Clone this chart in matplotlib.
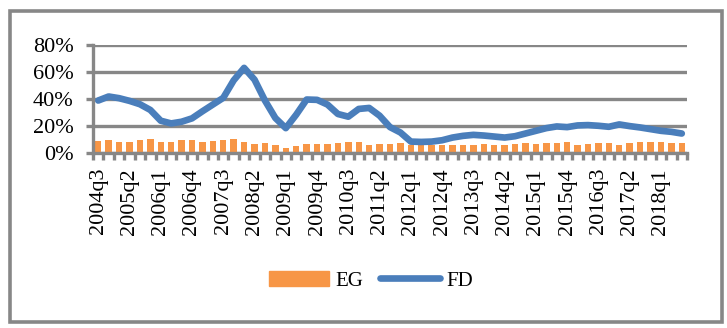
import matplotlib
matplotlib.use("Agg")
import matplotlib.pyplot as plt
from matplotlib.patches import Rectangle, Patch
from matplotlib.lines import Line2D
from matplotlib.ticker import FixedLocator, PercentFormatter
import numpy as np

# Quarters 2004q3 .. 2018q3
quarters = []
y, q = 2004, 3
for _ in range(57):
    quarters.append(f"{y}q{q}")
    q += 1
    if q == 5:
        q = 1
        y += 1

eg = [8.75, 9.5, 7.75, 8.0, 9.5, 10.25, 8.0, 8.0, 9.5, 9.5,
      8.0, 8.75, 9.5, 10.25, 8.0, 6.5, 7.25, 5.75, 3.5, 5.0,
      6.5, 6.5, 6.5, 7.25, 8.0, 8.0, 5.75, 6.5, 6.5, 7.0,
      5.5, 5.5, 5.75, 6.0, 5.5, 5.5, 5.75, 6.5, 5.75, 5.75,
      6.5, 7.0, 6.5, 7.25, 7.25, 7.75, 5.75, 6.5, 7.25, 7.25,
      5.75, 7.0, 8.0, 8.0, 8.0, 7.25, 7.25]

fd = [38.75, 41.75, 40.5, 38.5, 36.0, 31.75, 23.75, 21.75, 23.0, 25.5,
      30.75, 35.75, 40.75, 53.75, 63.0, 54.25, 38.75, 25.75, 18.25, 28.25,
      39.5, 39.25, 35.75, 28.75, 26.75, 32.5, 33.25, 27.5, 19.0, 15.0,
      8.25, 8.0, 8.25, 9.25, 11.25, 12.5, 13.25, 12.75, 12.0, 11.25,
      12.25, 14.25, 16.25, 18.25, 19.5, 19.0, 20.25, 20.5, 20.0, 19.25,
      21.0, 19.75, 18.75, 17.5, 16.25, 15.5, 14.25]

yticks = [0, 20, 40, 60, 80]

GRAY = "#878787"
ORANGE = "#F79646"
BLUE = "#4A7EBB"
FONT = "Liberation Serif"
FS = 16

W, H = 727, 328
fig = plt.figure(figsize=(W / 100, H / 100), dpi=100)
ax = fig.add_axes([93 / W, 1 - 152.7 / H, (687 - 93) / W, (152.7 - 45) / H])

x = np.arange(len(quarters))
ax.bar(x, eg, width=0.62, color=ORANGE, zorder=2)
ax.plot(x, fd, color=BLUE, lw=4.8, solid_joinstyle="round", solid_capstyle="round", zorder=3)

ax.set_xlim(-0.5, len(quarters) - 0.5)
ax.set_ylim(0, 80)

# y axis
ax.set_yticks(yticks)
ax.yaxis.set_major_formatter(PercentFormatter(decimals=0))
ax.tick_params(axis="y", length=5, width=2.4, color=GRAY, pad=9,
               labelsize=FS)
ax.grid(axis="y", color=GRAY, lw=2.4, zorder=0)
ax.set_axisbelow(True)

# x axis: ticks at category boundaries, labels every 3rd category
ax.xaxis.set_major_locator(FixedLocator(np.arange(-0.5, len(quarters), 1.0)))
ax.xaxis.set_major_formatter(plt.NullFormatter())
ax.tick_params(axis="x", which="major", length=5, width=2.4, color=GRAY)
lab_pos = x[::3]
ax.xaxis.set_minor_locator(FixedLocator(lab_pos))
ax.set_xticklabels([quarters[i] for i in lab_pos], minor=True, rotation=90)
ax.tick_params(axis="x", which="minor", length=0, pad=11, labelsize=FS)

for lbl in ax.get_xticklabels(minor=True) + ax.get_yticklabels():
    lbl.set_fontfamily(FONT)

for s in ["top", "right"]:
    ax.spines[s].set_visible(False)
for s in ["left", "bottom"]:
    ax.spines[s].set_color(GRAY)
    ax.spines[s].set_linewidth(2.4)
    ax.spines[s].set_zorder(4)

handles = [Patch(color=ORANGE), Line2D([0], [0], color=BLUE, lw=4.8, solid_capstyle="round")]
fig.legend(handles, ["EG", "FD"], loc="center", bbox_to_anchor=(371 / W, 1 - 281 / H),
           ncol=2, frameon=False, handlelength=2.9, handleheight=0.7,
           handletextpad=0.3, columnspacing=0.8,
           prop={"family": FONT, "size": FS - 1})

# outer frame
fig.add_artist(Rectangle((10 / W, 1 - 321.5 / H), (722 - 10) / W, (321.5 - 11) / H,
                         transform=fig.transFigure, fill=False, ec=GRAY, lw=2.6))

fig.savefig("out.png", dpi=100)
